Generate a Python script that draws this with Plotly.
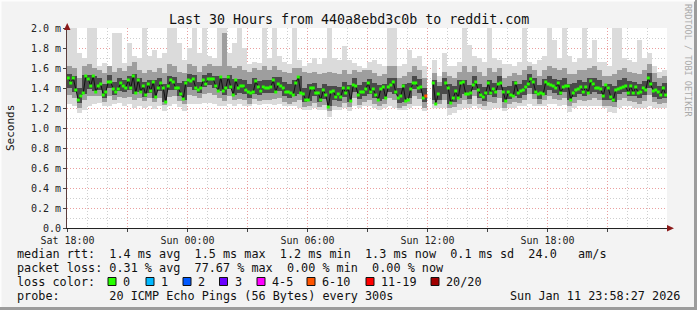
import numpy as np
import pandas as pd
import plotly.graph_objects as go

# ---------------- data ----------------
T_START = "2026-01-10 17:58:27"
T_END = "2026-01-11 23:58:27"
SMOKE_STEP_MIN = 15.0     # one smoke column = 15 minutes
MEDIAN_STEP_MIN = 7.5     # one median sample = 7.5 minutes

# smoke envelope (ms): outer = min..max ping, mid band, dark core band
smoke_max = [2.0,2.0,1.75,1.70,2.0,2.0,1.62,1.65,1.62,1.95,1.95,1.65,1.85,1.72,1.70,2.0,1.72,1.78,1.70,1.75,2.0,2.0,1.85,1.68,1.80,2.0,1.75,2.0,1.72,1.70,
             2.0,2.0,1.75,1.85,2.0,1.80,1.64,1.66,1.65,2.0,1.70,2.0,1.72,1.66,1.64,2.0,1.68,1.62,1.65,1.70,1.64,1.70,2.0,1.70,1.68,1.82,1.68,1.65,1.62,1.60,
             1.66,1.68,1.64,1.62,2.0,2.0,1.62,1.64,1.78,1.70,1.72,1.62,None,1.68,1.52,1.75,1.62,1.62,1.66,2.0,1.83,1.72,1.70,1.66,2.0,1.70,1.68,1.64,1.64,1.62,
             1.66,2.0,1.66,1.64,1.68,1.72,2.0,1.88,1.70,2.0,1.72,1.66,1.70,2.0,1.70,1.88,1.66,1.66,1.62,2.0,2.0,1.70,1.68,1.66,1.88,1.70,1.75,1.62,1.56,1.58]
smoke_min = [1.24,1.22,1.15,1.18,1.22,1.24,1.25,1.22,1.22,1.24,1.25,1.22,1.24,1.20,1.22,1.20,1.22,1.19,1.22,1.17,1.22,1.24,1.21,1.17,1.24,1.24,1.24,1.25,1.25,1.24,
             1.22,1.22,1.24,1.22,1.24,1.22,1.22,1.24,1.23,1.24,1.24,1.23,1.24,1.22,1.22,1.22,1.20,1.18,1.18,1.20,1.18,1.18,1.11,1.18,1.18,1.20,1.17,1.22,1.20,1.22,
             1.22,1.20,1.18,1.20,1.22,1.20,1.18,1.18,1.20,1.22,1.22,1.17,None,1.20,1.20,1.20,1.13,1.15,1.18,1.20,1.20,1.22,1.20,1.18,1.18,1.20,1.20,1.17,1.20,1.20,
             1.22,1.22,1.24,1.22,1.22,1.22,1.24,1.24,1.22,1.23,1.16,1.20,1.22,1.22,1.22,1.22,1.22,1.20,1.16,1.15,1.20,1.22,1.22,1.20,1.20,1.20,1.22,1.20,1.20,1.20]
mid_hi = [1.62,1.60,1.50,1.62,1.64,1.60,1.58,1.55,1.62,1.56,1.60,1.57,1.62,1.66,1.58,1.55,1.58,1.56,1.60,1.55,1.64,1.62,1.56,1.55,1.64,1.62,1.56,1.62,1.64,1.62,
          1.62,1.95,1.62,1.60,1.62,1.58,1.56,1.60,1.58,1.62,1.58,1.62,1.58,1.56,1.55,1.60,1.60,1.56,1.55,1.56,1.54,1.55,1.56,1.55,1.54,1.58,1.54,1.58,1.56,1.58,
          1.58,1.55,1.52,1.54,1.62,1.62,1.50,1.52,1.56,1.62,1.58,1.50,None,1.55,1.46,1.56,1.52,1.50,1.56,1.62,1.56,1.62,1.56,1.52,1.60,1.56,1.60,1.50,1.52,1.55,
          1.53,1.58,1.62,1.58,1.52,1.58,1.62,1.60,1.58,1.60,1.54,1.54,1.58,1.58,1.60,1.62,1.58,1.52,1.52,1.54,1.58,1.60,1.56,1.55,1.54,1.58,1.64,1.55,1.50,1.52]
mid_lo = [1.33,1.30,1.20,1.28,1.32,1.32,1.32,1.26,1.32,1.28,1.31,1.30,1.31,1.28,1.30,1.27,1.30,1.26,1.30,1.23,1.31,1.32,1.27,1.24,1.33,1.32,1.30,1.34,1.35,1.33,
          1.30,1.27,1.32,1.28,1.29,1.28,1.24,1.29,1.27,1.28,1.28,1.29,1.30,1.26,1.24,1.26,1.28,1.21,1.22,1.25,1.21,1.23,1.17,1.22,1.21,1.25,1.21,1.30,1.23,1.26,
          1.28,1.24,1.22,1.24,1.30,1.28,1.20,1.22,1.24,1.32,1.29,1.20,None,1.24,1.24,1.28,1.20,1.21,1.24,1.28,1.24,1.32,1.24,1.22,1.26,1.25,1.30,1.20,1.24,1.26,
          1.25,1.28,1.34,1.29,1.24,1.28,1.32,1.29,1.28,1.30,1.22,1.25,1.28,1.27,1.28,1.30,1.28,1.22,1.22,1.21,1.28,1.30,1.27,1.26,1.24,1.27,1.33,1.26,1.24,1.25]
core_hi = [1.54,1.52,1.40,1.53,1.53,1.52,1.50,1.44,1.53,1.46,1.50,1.48,1.52,1.54,1.50,1.46,1.48,1.48,1.50,1.44,1.52,1.51,1.45,1.47,1.54,1.53,1.46,1.53,1.55,1.52,
           1.52,1.50,1.53,1.49,1.49,1.48,1.44,1.50,1.47,1.48,1.48,1.51,1.51,1.46,1.44,1.48,1.52,1.40,1.44,1.45,1.40,1.44,1.42,1.42,1.41,1.46,1.43,1.50,1.43,1.46,
           1.49,1.45,1.43,1.44,1.50,1.50,1.40,1.44,1.45,1.52,1.49,1.40,None,1.48,1.42,1.50,1.44,1.42,1.48,1.48,1.43,1.52,1.44,1.41,1.48,1.45,1.52,1.41,1.42,1.47,
           1.44,1.48,1.54,1.50,1.43,1.49,1.52,1.49,1.48,1.50,1.44,1.45,1.48,1.46,1.50,1.50,1.48,1.42,1.44,1.42,1.48,1.50,1.47,1.46,1.44,1.47,1.55,1.46,1.42,1.45]
core_lo = [1.40,1.36,1.25,1.34,1.39,1.37,1.38,1.30,1.40,1.33,1.37,1.36,1.38,1.34,1.36,1.31,1.35,1.30,1.37,1.26,1.38,1.38,1.32,1.28,1.41,1.38,1.35,1.41,1.43,1.40,
           1.37,1.33,1.39,1.33,1.35,1.34,1.30,1.34,1.33,1.35,1.35,1.35,1.37,1.32,1.30,1.32,1.34,1.26,1.27,1.32,1.26,1.29,1.22,1.28,1.27,1.31,1.26,1.36,1.29,1.32,
           1.34,1.30,1.27,1.29,1.36,1.34,1.25,1.26,1.30,1.39,1.35,1.26,None,1.28,1.28,1.34,1.24,1.26,1.30,1.34,1.29,1.38,1.30,1.27,1.33,1.31,1.38,1.26,1.29,1.32,
           1.30,1.33,1.40,1.34,1.29,1.33,1.38,1.35,1.33,1.36,1.28,1.31,1.34,1.32,1.34,1.36,1.34,1.28,1.28,1.26,1.34,1.36,1.32,1.32,1.30,1.33,1.40,1.31,1.29,1.30]

# median rtt (ms)
median_ms = [1.50,1.45,1.50,1.38,1.28,1.32,1.35,1.52,1.49,1.42,1.52,1.36,1.42,1.44,1.33,1.36,1.46,1.46,1.39,1.36,
             1.39,1.45,1.42,1.40,1.48,1.40,1.52,1.35,1.48,1.36,1.42,1.33,1.44,1.37,1.46,1.31,1.40,1.45,1.40,1.26,
             1.42,1.48,1.46,1.40,1.40,1.34,1.29,1.45,1.48,1.47,1.49,1.40,1.38,1.40,1.48,1.44,1.49,1.49,1.49,1.42,
             1.37,1.51,1.37,1.40,1.51,1.41,1.33,1.48,1.40,1.42,1.42,1.38,1.36,1.35,1.36,1.47,1.41,1.37,1.41,1.40,
             1.40,1.41,1.48,1.36,1.44,1.42,1.40,1.36,1.36,1.35,1.33,1.45,1.51,1.35,1.34,1.28,1.28,1.40,1.40,1.35,
             1.35,1.28,1.38,1.33,1.21,1.36,1.37,1.31,1.34,1.31,1.40,1.35,1.40,1.27,1.43,1.42,1.33,1.36,1.36,1.39,
             1.45,1.36,1.39,1.33,1.28,1.39,1.41,1.30,1.41,1.43,1.46,1.36,1.30,1.32,1.42,1.27,1.28,1.39,1.45,1.45,
             1.40,1.41,1.30,1.32,None,None,1.45,1.24,1.34,None,None,1.45,1.40,1.25,1.30,1.37,1.30,1.45,1.46,1.34,
             1.34,1.35,1.43,1.46,1.38,1.33,1.31,1.35,1.45,1.35,1.39,1.36,1.44,1.45,1.36,1.27,1.36,1.33,1.32,1.45,
             1.35,1.37,1.38,1.41,1.44,1.49,1.46,1.36,1.34,1.35,1.34,1.46,1.44,1.43,1.42,1.40,1.45,1.35,1.41,1.42,
             1.42,1.28,1.35,1.38,1.39,1.41,1.36,1.41,1.35,1.47,1.44,1.40,1.40,1.39,1.32,1.43,1.40,1.31,1.28,1.38,
             1.39,1.40,1.41,1.42,1.35,1.42,1.35,1.41,1.35,1.36,1.40,1.38,1.50,1.44,1.37,1.38,1.36,1.33,1.40,1.33]
# lost pings per median sample (only non-zero samples listed)
loss_sample_index = [143]
loss_sample_count = [8]

loss_levels = ["0", "1", "2", "3", "4-5", "6-10", "11-19", "20/20"]
loss_colors = ["#26ff00", "#00b8ff", "#0059ff", "#6a00ff", "#ff00ff", "#ff5500", "#ff0000", "#a10000"]

x_tick_times = ["2026-01-10 18:00", "2026-01-10 21:00", "2026-01-11 00:00", "2026-01-11 03:00",
                "2026-01-11 06:00", "2026-01-11 09:00", "2026-01-11 12:00", "2026-01-11 15:00",
                "2026-01-11 18:00", "2026-01-11 21:00"]
x_tick_text = ["Sat 18:00", "", "Sun 00:00", "", "Sun 06:00", "", "Sun 12:00", "", "Sun 18:00", ""]
y_tick_vals = [0.0, 0.2, 0.4, 0.6, 0.8, 1.0, 1.2, 1.4, 1.6, 1.8, 2.0]
y_tick_text = ["0.0", "0.2 m", "0.4 m", "0.6 m", "0.8 m", "1.0 m", "1.2 m", "1.4 m", "1.6 m", "1.8 m", "2.0 m"]

title_text = "Last 30 Hours from 440a8ebd3c0b to reddit.com"
legend_rows = [
    "median rtt:  1.4 ms avg  1.5 ms max  1.2 ms min  1.3 ms now  0.1 ms sd  24.0   am/s",
    "packet loss: 0.31 % avg  77.67 % max  0.00 % min  0.00 % now",
    "loss color:",
    "probe:       20 ICMP Echo Pings (56 Bytes) every 300s",
]
stamp_text = "Sun Jan 11 23:58:27 2026"
watermark = "RRDTOOL / TOBI OETIKER"

# ---------------- layout helpers ----------------
W, H = 697, 310
PL, PR, PT, PB = 67, 667, 28, 228   # plot area in pixels
def px(x):
    return (x - PL) / (PR - PL)
def py(y):
    return (PB - y) / (PB - PT)

FONT = "DejaVu Sans Mono"

t0 = pd.Timestamp(T_START)
n_s = len(smoke_max)
smoke_x = t0 + pd.to_timedelta(np.arange(n_s) * SMOKE_STEP_MIN + SMOKE_STEP_MIN / 2, unit="min")
n_m = len(median_ms)
med_x = t0 + pd.to_timedelta(np.arange(n_m) * MEDIAN_STEP_MIN + MEDIAN_STEP_MIN / 2, unit="min")
bar_w = SMOKE_STEP_MIN * 60 * 1000

def arr(a):
    return np.array([np.nan if v is None else v for v in a], dtype=float)

fig = go.Figure()
for lo, hi, col in [(smoke_min, smoke_max, "#dbdbdb"),
                    (mid_lo, mid_hi, "#9e9e9e"),
                    (core_lo, core_hi, "#4a4a4a")]:
    lo_a, hi_a = arr(lo), arr(hi)
    fig.add_trace(go.Bar(x=smoke_x, y=hi_a - lo_a, base=lo_a, width=bar_w,
                         marker=dict(color=col, line=dict(width=0)),
                         hoverinfo="skip", showlegend=False))

loss = np.zeros(n_m, dtype=int)
for i, c in zip(loss_sample_index, loss_sample_count):
    loss[i] = c
def loss_color(c):
    bounds = [0, 1, 2, 3, 5, 10, 19, 20]
    for b, col in zip(bounds, loss_colors):
        if c <= b:
            return col
    return loss_colors[-1]
med_colors = [loss_color(c) for c in loss]

fig.add_trace(go.Scatter(x=med_x, y=arr(median_ms), mode="lines",
                         line=dict(color="#101010", width=1),
                         hoverinfo="skip", showlegend=False, connectgaps=False))
fig.add_trace(go.Scatter(x=med_x, y=arr(median_ms), mode="markers",
                         marker=dict(symbol="square", size=3, color=med_colors, line=dict(width=0)),
                         hoverinfo="skip", showlegend=False))

fig.update_layout(
    width=W, height=H, autosize=False,
    margin=dict(l=PL, r=W - PR, t=PT, b=H - PB, pad=0),
    paper_bgcolor="#f3f3f3", plot_bgcolor="#ffffff",
    barmode="overlay", bargap=0,
    font=dict(family=FONT, size=10, color="#222222"),
    showlegend=False,
)
fig.update_xaxes(
    type="date", range=[T_START, T_END],
    tickmode="array", tickvals=x_tick_times, ticktext=x_tick_text,
    showgrid=True, gridcolor="#eb9f9f", griddash="1px,2px", gridwidth=1,
    minor=dict(dtick=3600000, tick0="2026-01-10 18:00", showgrid=True,
               gridcolor="#cfcfcf", griddash="1px,2px", gridwidth=1),
    showline=True, linecolor="#222222", linewidth=1,
    ticks="outside", ticklen=3, tickcolor="#444444",
    tickfont=dict(family=FONT, size=10, color="#222222"),
    zeroline=False, fixedrange=True,
)
fig.update_yaxes(
    range=[0, 2.0],
    tickmode="array", tickvals=y_tick_vals, ticktext=y_tick_text,
    showgrid=True, gridcolor="#eb9f9f", griddash="1px,2px", gridwidth=1,
    minor=dict(dtick=0.1, tick0=0, showgrid=True,
               gridcolor="#cfcfcf", griddash="1px,2px", gridwidth=1),
    showline=True, linecolor="#5a3c3c", linewidth=1,
    ticks="outside", ticklen=3, tickcolor="#444444",
    tickfont=dict(family=FONT, size=10, color="#222222"),
    zeroline=False, fixedrange=True,
)

NB = "\u00a0"
ann = []
ann.append(dict(text=title_text.replace(" ", NB), x=px(348.5), y=py(19), xref="paper", yref="paper",
                xanchor="center", yanchor="middle", showarrow=False,
                font=dict(family=FONT, size=13.3, color="#111111")))
ann.append(dict(text="Seconds", x=px(10), y=py(128), xref="paper", yref="paper",
                xanchor="center", yanchor="middle", textangle=-90, showarrow=False,
                font=dict(family=FONT, size=11, color="#111111")))
ann.append(dict(text=watermark.replace(" ", NB), x=px(688), y=py(60), xref="paper", yref="paper",
                xanchor="center", yanchor="middle", textangle=90, showarrow=False,
                font=dict(family=FONT, size=8.5, color="#aaaaaa")))
row_y = [254, 268, 282, 296]
for txt, yy in zip(legend_rows, row_y):
    ann.append(dict(text=txt.replace(" ", NB), x=px(15), y=py(yy), xref="paper", yref="paper",
                    xanchor="left", yanchor="middle", showarrow=False,
                    font=dict(family=FONT, size=11.8, color="#111111")))
ann.append(dict(text=stamp_text.replace(" ", NB), x=px(682), y=py(296), xref="paper", yref="paper",
                xanchor="right", yanchor="middle", showarrow=False,
                font=dict(family=FONT, size=11.8, color="#111111")))

shapes = []
box_left = [108, 146, 183, 219.5, 257, 307, 366, 431]
for bl, lab, col in zip(box_left, loss_levels, loss_colors):
    shapes.append(dict(type="rect", xref="paper", yref="paper",
                       x0=px(bl), x1=px(bl + 8), y0=py(285.5), y1=py(277.5),
                       fillcolor=col, line=dict(color="#111111", width=1)))
    ann.append(dict(text=lab, x=px(bl + 13), y=py(282), xref="paper", yref="paper",
                    xanchor="left", yanchor="middle", showarrow=False,
                    font=dict(family=FONT, size=11.8, color="#111111")))

# axis arrows
shapes.append(dict(type="path", xref="paper", yref="paper", layer="above",
                   path=f"M {px(64)} {py(30)} L {px(70.5)} {py(30)} L {px(67.2)} {py(23)} Z",
                   fillcolor="#8b1a1a", line=dict(width=0)))
shapes.append(dict(type="path", xref="paper", yref="paper", layer="above",
                   path=f"M {px(667)} {py(225)} L {px(667)} {py(231.5)} L {px(674)} {py(228.2)} Z",
                   fillcolor="#8b1a1a", line=dict(width=0)))
# 3-D frame
shapes.append(dict(type="line", xref="paper", yref="paper", x0=px(0), x1=px(697), y0=py(308.5), y1=py(308.5),
                   line=dict(color="#9c9c9c", width=3)))
shapes.append(dict(type="line", xref="paper", yref="paper", x0=px(695.5), x1=px(695.5), y0=py(0), y1=py(310),
                   line=dict(color="#9c9c9c", width=3)))
shapes.append(dict(type="line", xref="paper", yref="paper", x0=px(0), x1=px(695), y0=py(0.5), y1=py(0.5),
                   line=dict(color="#fdfdfd", width=2)))
shapes.append(dict(type="line", xref="paper", yref="paper", x0=px(0.5), x1=px(0.5), y0=py(0), y1=py(307),
                   line=dict(color="#fdfdfd", width=2)))

fig.update_layout(annotations=ann, shapes=shapes)
fig.write_html("out.html")
